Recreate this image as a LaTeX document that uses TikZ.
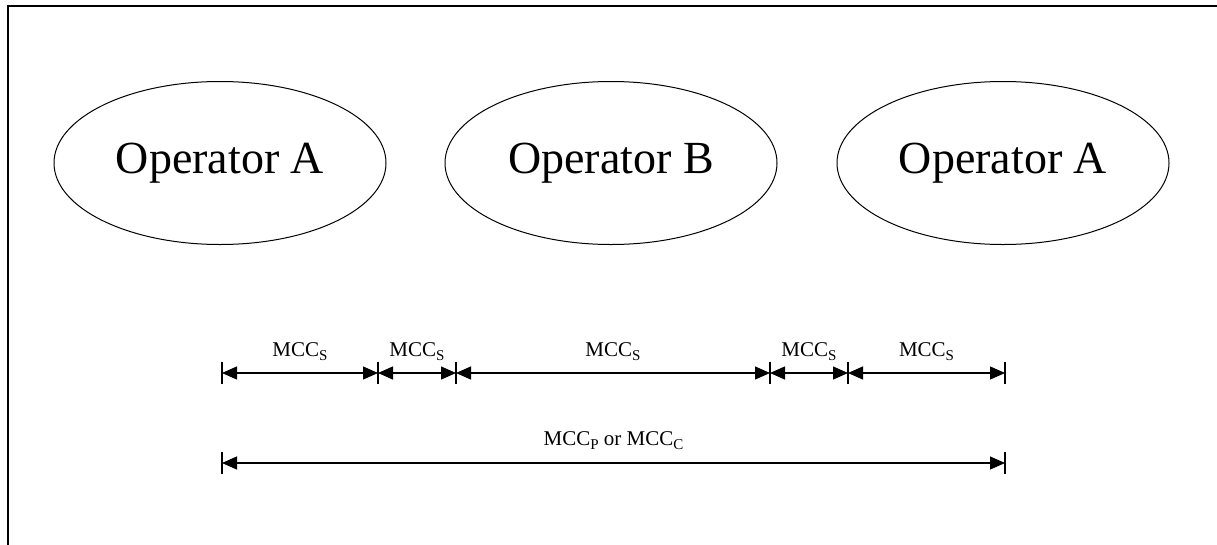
\documentclass[tikz,border=0pt]{standalone}
\usepackage{fontspec}
\setmainfont{Liberation Serif}
\usetikzlibrary{shapes}
\usetikzlibrary{calc}
\usetikzlibrary{positioning}
\usetikzlibrary{arrows.meta}
\providecommand\mccsub[1]{MCC\raisebox{-4pt}{\fontsize{15}{16}\selectfont #1}}

\begin{document}
\begin{tikzpicture}[x = 1pt, y = -1pt, black,
        line width = 1pt,
        opnode/.style = {ellipse, draw, minimum width = 332pt, minimum height = 163pt,
            font = \fontsize{46}{50}\selectfont},
        span/.style = {{Triangle[length = 15pt, width = 13pt]}-{Triangle[length = 15pt, width = 13pt]},
            line width = 1.3pt},
        spanlabel/.style = {font = \fontsize{21}{23}\selectfont, inner sep = 0pt, anchor = base},]
    \useasboundingbox[] (0,0) rectangle (1217,544);

    % frame
    \draw[line width = 2pt] (8,560) -- (8,6) -- (1230,6);

    \node (opA1) at (220,163) [opnode] {Operator A};
    \node (opB) [opnode, right = 58pt of opA1] {Operator B};
    \node (opA2) [opnode, right = 59pt of opB] {Operator A};

    % tick positions
    \foreach \x [count = \i from 0] in {222,378,456,770,848,1005} {
        \coordinate (t\i) at (\x,373);
        \draw[line width = 1.3pt] ([yshift = 11pt]t\i) -- ([yshift = -11pt]t\i);
    }
    \coordinate (b0) at (222,463);
    \coordinate (b1) at (1005,463);
    \draw[line width = 1.3pt] ([yshift = 11pt]b0) -- ([yshift = -11pt]b0);
    \draw[line width = 1.3pt] ([yshift = 11pt]b1) -- ([yshift = -11pt]b1);

    \foreach \a/\b in {0/1,1/2,2/3,3/4,4/5} {
        \draw[span] (t\a) -- (t\b);
        \node (mccs\a) [spanlabel] at ($(t\a)!0.5!(t\b) + (0,-17)$) {\mccsub{S}};
    }

    \draw[span] (b0) -- (b1);
    \node (mccpc) [spanlabel] at ($(b0)!0.5!(b1) + (0,-18)$) {\mccsub{P} or \mccsub{C}};

\end{tikzpicture}
\end{document}
